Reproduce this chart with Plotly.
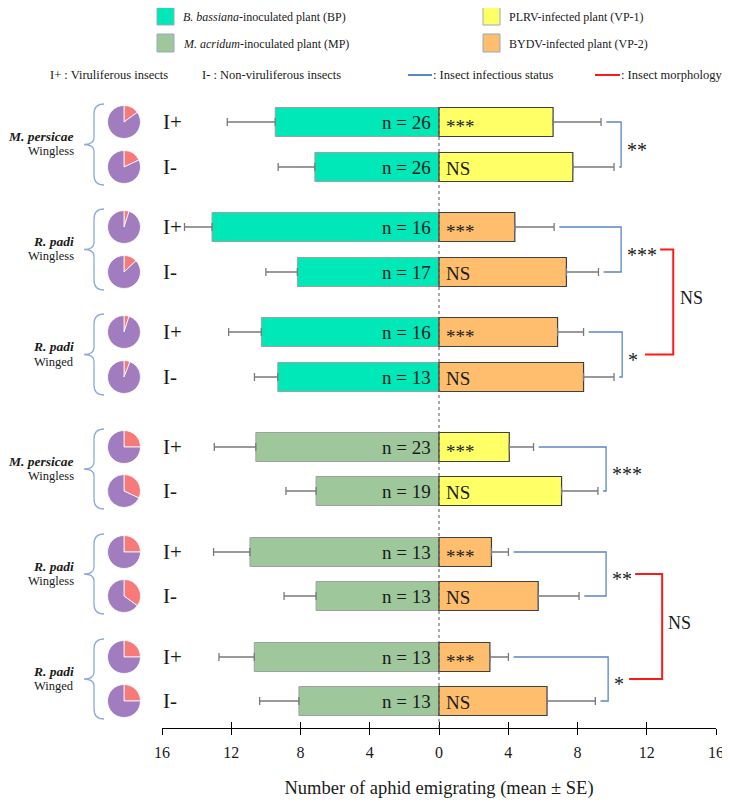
import plotly.graph_objects as go

# the page body has an 8px margin: the figure is sized/positioned to compensate
OFF = 8
W, H = 730 - OFF, 802 - OFF

# ---------------- data ----------------
species = ["M. persicae", "R. padi", "R. padi", "M. persicae", "R. padi", "R. padi"]
morphs = ["Wingless", "Wingless", "Winged", "Wingless", "Wingless", "Winged"]
status = ["I+", "I-"] * 6
fungal_plant = ["BP"] * 6 + ["MP"] * 6
virus_plant = ["VP-1", "VP-1", "VP-2", "VP-2", "VP-2", "VP-2",
               "VP-1", "VP-1", "VP-2", "VP-2", "VP-2", "VP-2"]
fungal_mean = [9.46, 7.17, 13.11, 8.18, 10.26, 9.31, 10.58, 7.10, 10.92, 7.10, 10.67, 8.09]
fungal_se = [2.77, 2.12, 1.59, 1.82, 1.89, 1.35, 2.40, 1.74, 2.10, 1.85, 2.04, 2.27]
virus_mean = [6.59, 7.73, 4.38, 7.36, 6.85, 8.35, 4.06, 7.08, 3.03, 5.73, 2.94, 6.24]
virus_se = [2.77, 2.38, 2.27, 1.85, 1.50, 1.76, 1.40, 2.10, 0.98, 2.36, 1.07, 2.79]
n_insects = [26, 26, 16, 17, 16, 13, 23, 19, 13, 13, 13, 13]
virus_sig = ["***", "NS"] * 6
pair_sig = ["**", "***", "*", "***", "**", "*"]
morph_sig = ["NS", "NS"]
pie_red_pct = [15, 18, 5, 13, 5, 6, 25, 32, 25, 35, 25, 25]
tick_vals = [-16, -12, -8, -4, 0, 4, 8, 12, 16]
tick_text = [str(abs(v)) for v in tick_vals]

legend_items = [
    ("BP", "<i>B. bassiana</i>-inoculated plant (BP)"),
    ("MP", "<i>M. acridum</i>-inoculated plant (MP)"),
    ("VP-1", "PLRV-infected plant (VP-1)"),
    ("VP-2", "BYDV-infected plant (VP-2)"),
]

# ---------------- styles / layout ----------------
FONT = "Liberation Serif"
COL = {"BP": "#00E8B8", "MP": "#9FC79C", "VP-1": "#FFFF66", "VP-2": "#FFBD6E"}
PIE_RED, PIE_PURPLE = "#F67A79", "#A17DC0"
BLUE, RED, BRACE = "#5B87C5", "#FF1A1A", "#8FAADC"
TXT = "#1A1A1A"

row_y = [122, 167, 227, 272, 332, 377, 447, 491, 552, 596, 657, 701]
bar_h = 29
X0, X1 = 162, 716          # page-pixel extent of the x axis
AX_Y = 728                 # page-pixel y of the x axis line
pair_vx = [10.52, 10.52, 10.58, 9.65, 9.65, 9.77]   # bracket vertical position (data units)
red_br = [dict(pairs=(1, 2), x=13.53, xt=12.77, xb=11.9, lx=13.8),
          dict(pairs=(4, 5), x=12.89, xt=11.33, xb=10.98, lx=13.12)]


def px(p):
    return (p - OFF) / W


def py(p):
    return 1 - (p - OFF) / H


fig = go.Figure()

# bars
fig.add_trace(go.Bar(
    y=row_y, x=[-m for m in fungal_mean], orientation="h", width=bar_h,
    marker=dict(color=[COL[c] for c in fungal_plant], line=dict(color="#A0A0A0", width=1)),
    error_x=dict(type="data", symmetric=False, array=[0] * 12, arrayminus=fungal_se,
                 color="#7A7A7A", thickness=1.3, width=4),
    showlegend=False, hoverinfo="skip"))
fig.add_trace(go.Bar(
    y=row_y, x=virus_mean, orientation="h", width=bar_h,
    marker=dict(color=[COL[c] for c in virus_plant], line=dict(color="#3F3F3F", width=1.2)),
    error_x=dict(type="data", symmetric=False, array=virus_se, arrayminus=[0] * 12,
                 color="#7A7A7A", thickness=1.3, width=4),
    showlegend=False, hoverinfo="skip"))
# dummy trace for the inside-tick overlay axis
fig.add_trace(go.Scatter(x=[0], y=[AX_Y], xaxis="x2", mode="markers",
                         marker=dict(opacity=0), showlegend=False, hoverinfo="skip"))

# pies
for i, r in enumerate(pie_red_pct):
    cy = row_y[i]
    fig.add_trace(go.Pie(
        values=[r, 100 - r], sort=False, direction="clockwise", rotation=0,
        marker=dict(colors=[PIE_RED, PIE_PURPLE], line=dict(color="white", width=0.8)),
        textinfo="none", hoverinfo="skip", showlegend=False,
        domain=dict(x=[px(124 - 16.5), px(124 + 16.5)], y=[py(cy + 16.5), py(cy - 16.5)])))

shapes = []
ann = []

# zero dotted line
shapes.append(dict(type="line", xref="x", yref="y", x0=0, x1=0, y0=107, y1=AX_Y,
                   line=dict(color="#555555", width=1, dash="dot"), layer="above"))

for i in range(12):
    y = row_y[i]
    ann.append(dict(xref="x", yref="y", x=-0.35, y=y, text=f"n = {n_insects[i]}",
                    xanchor="right", yanchor="middle", showarrow=False,
                    font=dict(family=FONT, size=19, color=TXT)))
    s = virus_sig[i]
    ann.append(dict(xref="x", yref="y", x=0.3, y=y + (4 if s == "***" else 1), text=s,
                    xanchor="left", yanchor="middle", showarrow=False,
                    font=dict(family=FONT, size=(19 if s == "***" else 19), color=TXT)))
    ann.append(dict(xref="paper", yref="paper", x=px(161), y=py(y), text=status[i],
                    xanchor="left", yanchor="middle", showarrow=False,
                    font=dict(family=FONT, size=21, color=TXT)))

# species labels & braces
for k in range(6):
    ya, yb = row_y[2 * k], row_y[2 * k + 1]
    mid = (ya + yb) / 2
    ann.append(dict(xref="paper", yref="paper", x=px(76), y=py(mid - 8),
                    text=f"<b><i>{species[k]}</i></b>", xanchor="right", yanchor="middle",
                    showarrow=False, font=dict(family=FONT, size=13.5, color=TXT)))
    ann.append(dict(xref="paper", yref="paper", x=px(76), y=py(mid + 7),
                    text=morphs[k], xanchor="right", yanchor="middle",
                    showarrow=False, font=dict(family=FONT, size=12.5, color=TXT)))
    t, b = ya - 18, yb + 18
    xr, xm, xt = 104, 94, 84
    path = (f"M {px(xr)},{py(t)} Q {px(xm)},{py(t)} {px(xm)},{py(t + 10)} "
            f"L {px(xm)},{py(mid - 7)} Q {px(xm)},{py(mid)} {px(xt)},{py(mid)} "
            f"Q {px(xm)},{py(mid)} {px(xm)},{py(mid + 7)} "
            f"L {px(xm)},{py(b - 10)} Q {px(xm)},{py(b)} {px(xr)},{py(b)}")
    shapes.append(dict(type="path", xref="paper", yref="paper", path=path,
                       line=dict(color=BRACE, width=1.3)))

    # blue bracket (infectious status)
    gap = 0.3
    xs_t = virus_mean[2 * k] + virus_se[2 * k] + gap
    xs_b = virus_mean[2 * k + 1] + virus_se[2 * k + 1] + gap
    vx = pair_vx[k]
    shapes.append(dict(type="path", xref="x", yref="y",
                       path=f"M {xs_t},{ya} L {vx},{ya} L {vx},{yb} L {xs_b},{yb}",
                       line=dict(color=BLUE, width=1.3)))
    ann.append(dict(xref="x", yref="y", x=vx + 0.22, y=mid + 5, text=pair_sig[k],
                    xanchor="left", yanchor="middle", showarrow=False,
                    font=dict(family=FONT, size=20, color=TXT)))

# red brackets (morphology)
for j, rb in enumerate(red_br):
    a, b = rb["pairs"]
    ma = (row_y[2 * a] + row_y[2 * a + 1]) / 2
    mb = (row_y[2 * b] + row_y[2 * b + 1]) / 2
    shapes.append(dict(type="path", xref="x", yref="y",
                       path=f"M {rb['xt']},{ma} L {rb['x']},{ma} L {rb['x']},{mb} L {rb['xb']},{mb}",
                       line=dict(color=RED, width=2)))
    ann.append(dict(xref="x", yref="y", x=rb["lx"], y=(ma + mb) / 2 - 4, text=morph_sig[j],
                    xanchor="left", yanchor="middle", showarrow=False,
                    font=dict(family=FONT, size=18, color=TXT)))

# legend (top)
leg_pos = [(157, 16), (157, 43), (483, 16), (483, 43)]
for (key, label), (lx, ly) in zip(legend_items, leg_pos):
    shapes.append(dict(type="rect", xref="paper", yref="paper",
                       x0=px(lx), x1=px(lx + 17), y0=py(ly + 9), y1=py(ly - 9),
                       fillcolor=COL[key], line=dict(color="#9AAAC0", width=1)))
    ann.append(dict(xref="paper", yref="paper", x=px(lx + 24), y=py(ly + 1), text=label,
                    xanchor="left", yanchor="middle", showarrow=False,
                    font=dict(family=FONT, size=12, color=TXT)))

NOTE_Y = 75
notes = [(48, "I+ : Viruliferous insects"), (200, "I- : Non-viruliferous insects"),
         (431, ": Insect infectious status"), (619, ": Insect morphology")]
for nx, t in notes:
    ann.append(dict(xref="paper", yref="paper", x=px(nx), y=py(NOTE_Y), text=t,
                    xanchor="left", yanchor="middle", showarrow=False,
                    font=dict(family=FONT, size=12.5, color=TXT)))
shapes.append(dict(type="line", xref="paper", yref="paper", x0=px(408), x1=px(432),
                   y0=py(NOTE_Y), y1=py(NOTE_Y), line=dict(color=BLUE, width=2)))
shapes.append(dict(type="line", xref="paper", yref="paper", x0=px(595), x1=px(620),
                   y0=py(NOTE_Y), y1=py(NOTE_Y), line=dict(color=RED, width=2)))

fig.update_layout(
    width=W, height=H, margin=dict(l=0, r=0, t=0, b=0, pad=0),
    paper_bgcolor="white", plot_bgcolor="rgba(0,0,0,0)",
    barmode="overlay", showlegend=False,
    shapes=shapes, annotations=ann,
    xaxis=dict(domain=[px(X0), px(X1)], range=[-16, 16], tickvals=tick_vals, ticktext=tick_text,
               ticks="outside", ticklen=6, tickwidth=1.2, tickcolor="black",
               ticklabelstandoff=4,
               showline=True, linecolor="black", linewidth=1.3, showgrid=False, zeroline=False,
               tickfont=dict(family=FONT, size=16, color=TXT), automargin=False,
               title=dict(text="Number of aphid emigrating (mean ± SE)", standoff=20,
                          font=dict(family=FONT, size=18.5, color=TXT)),
               fixedrange=True),
    xaxis2=dict(overlaying="x", anchor="y", side="bottom", domain=[px(X0), px(X1)],
                range=[-16, 16], tickvals=tick_vals, ticks="inside", ticklen=6, tickwidth=1.2,
                tickcolor="black", showticklabels=False, showline=False, showgrid=False,
                zeroline=False, fixedrange=True),
    yaxis=dict(domain=[py(AX_Y), 1], range=[AX_Y, OFF], visible=False, fixedrange=True),
)

fig.write_html("out.html")
